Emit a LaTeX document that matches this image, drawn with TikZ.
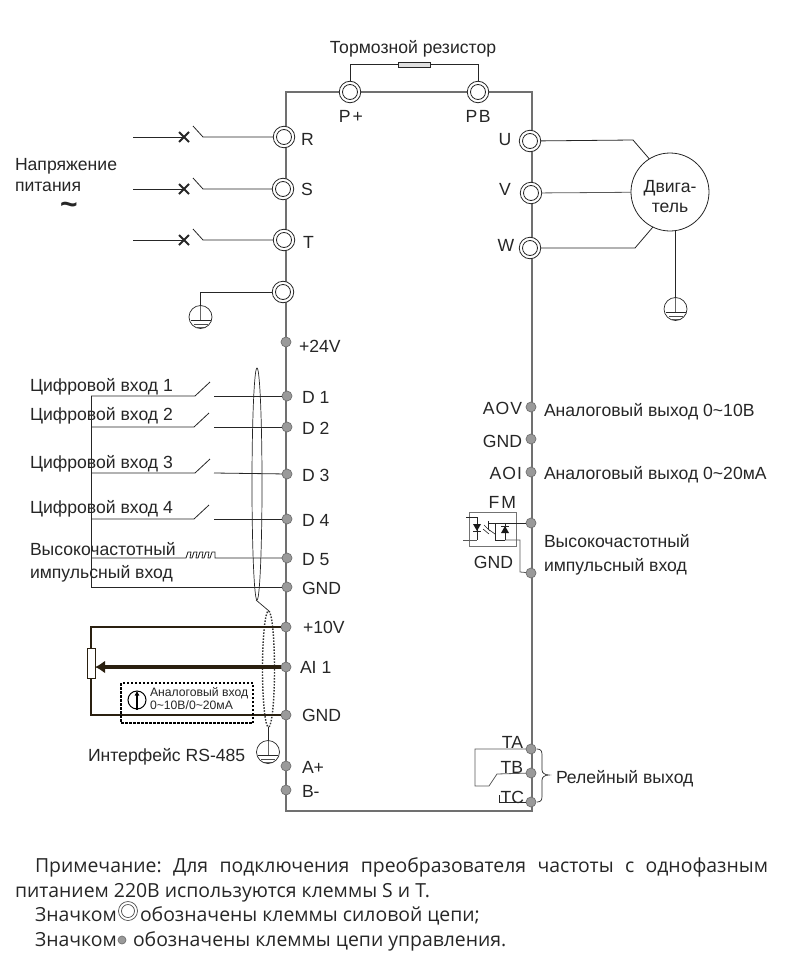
\documentclass[tikz,border=0pt]{standalone}
\usepackage{fontspec}
\setmainfont{Liberation Sans}
\newfontfamily\notefont{Open Sans}
\usetikzlibrary{arrows.meta,backgrounds}
\definecolor{framegray}{HTML}{707070}
\definecolor{termgray}{HTML}{9A9A9A}
\definecolor{wiredark}{HTML}{2A2010}
\tikzset{
  lab/.style={inner sep=0pt,outer sep=0pt,anchor=base west,font=\fontsize{17.6}{20}\selectfont,text=black!85},
  labc/.style={lab,anchor=base},
  notetext/.style={lab,font=\notefont\fontsize{19.4}{22}\selectfont\frenchspacing},
  term/.style={circle,draw=framegray,fill=termgray,line width=.7pt,minimum size=10pt,inner sep=0pt,outer sep=0pt},
  power/.style={circle,draw=black!85,fill=white,line width=.8pt,minimum size=21.5pt,inner sep=0pt,outer sep=0pt,
    path picture={\draw[line width=.8pt,black!85] (path picture bounding box.center) circle (7.5pt);}},
  earth/.style={circle,draw=black!85,line width=.7pt,minimum size=23pt,inner sep=0pt,outer sep=0pt,
    path picture={\begin{scope}[shift={(path picture bounding box.center)}]
      \draw[line width=.7pt,black!60] (0,-12)--(0,3);
      \draw[line width=.8pt,black!85] (-10,3)--(10,3);
      \draw[line width=.7pt,black!70] (-7,7)--(7,7);
      \draw[line width=.7pt,black!60] (-4,10)--(4,10);
    \end{scope}}},
  wire/.style={line width=.8pt,black!85},
  gwire/.style={line width=.8pt,black!65},
  heavy/.style={line width=2pt,wiredark},
  frameline/.style={line width=2pt,framegray},
  cross/.style={line width=1.8pt,black!85}
}
\begin{document}
\begin{tikzpicture}[x=1pt,y=-1pt]
\useasboundingbox (0,0) rectangle (785,969);
% --- terminals
\node[power] (pp) at (350,92) {};
\node[power] (pb) at (478,92) {};
\node[power] (r) at (284,137) {};
\node[power] (s) at (283,189) {};
\node[power] (t) at (284,240) {};
\node[power] (pe) at (283,292) {};
\node[power] (u) at (530,141) {};
\node[power] (v) at (531,193) {};
\node[power] (w) at (530,248) {};
\node[term] (p24) at (286,342) {};
\node[term] (d1) at (287,396) {};
\node[term] (d2) at (287,427) {};
\node[term] (d3) at (287,474) {};
\node[term] (d4) at (287,519) {};
\node[term] (d5) at (287,558) {};
\node[term] (gnda) at (287,587) {};
\node[term] (p10) at (286,627) {};
\node[term] (ai) at (286,667) {};
\node[term] (gndb) at (286,715) {};
\node[term] (ap) at (286,766) {};
\node[term] (bm) at (286,790) {};
\node[term] (aov) at (531,407) {};
\node[term] (gndc) at (531,439) {};
\node[term] (aoi) at (531,472) {};
\node[term] (fm) at (531,523) {};
\node[term] (gndd) at (531,573) {};
\node[term] (ta) at (531,749) {};
\node[term] (tb) at (531,773) {};
\node[term] (tc) at (531,802) {};
% --- frame
\begin{scope}[on background layer]
\draw[frameline] (286,92) rectangle (532,811);
\end{scope}
% --- brake resistor
\node[draw=black!85,fill=black!12,line width=.8pt,minimum width=32pt,minimum height=5pt,inner sep=0pt] (rb) at (414,64.5) {};
\draw[wire] (pp) |- (rb);
\draw[wire] (pb) |- (rb);
\node[labc] (lrb) at (413,53) {Тормозной резистор};
% --- mains
\foreach \n/\y in {r/137,s/189,t/240}{
  \coordinate (a\n) at (133,\y);
  \coordinate (x\n) at (184,\y);
  \coordinate (sa\n) at (193,\y-11);
  \coordinate (sb\n) at (203,\y);
  \draw[wire] (a\n) -- (x\n);
  \draw[cross] (179,\y-5) -- (189,\y+5) (179,\y+5) -- (189,\y-5);
  \draw[wire] (sa\n) -- (sb\n) -- (\n);
}
\node[earth] (e1) at (200.5,317) {};
\draw[wire] (pe) -| (e1);
\node[lab] (lr) at (301,145) {R};
\node[lab] (ls) at (301,195) {S};
\node[lab] (lt) at (303,248) {T};
\node[lab] (lv1) at (15,170) {Напряжение};
\node[lab] (lv2) at (15,191) {питания};
\node[labc,font=\fontsize{30}{30}\selectfont\bfseries] (lv3) at (69,214) {\char"7E};
\node[labc] (lpp) at (351,122) {P\kern2pt +};
\node[labc] (lpb) at (478,122) {P\kern1.5pt B};
% --- motor
\node[circle,draw=black!85,line width=.8pt,minimum size=78pt,inner sep=0pt,outer sep=0pt] (m) at (670,192) {};
\node[align=center,inner sep=0pt,font=\fontsize{17.6}{20}\selectfont,text=black!85] (mt) at (670,197) {Двига-\\тель};
\coordinate (mu) at (633,140);
\coordinate (mw) at (635,248);
\draw[wire] (u) -- (mu) -- (m.122);
\draw[gwire] (v) -- (m);
\draw[wire] (w) -- (mw) -- (m.244);
\node[earth] (e2) at (675.5,309) {};
\draw[wire] (m.south -| e2) -- (e2);
\node[labc] (lu) at (505,145) {U};
\node[labc] (lv) at (505,195) {V};
\node[labc] (lw) at (506,251) {W};
% --- digital inputs
\coordinate (bt) at (91,396);
\coordinate (bb) at (91,587);
\draw[wire] (bt) -- (bb) -- (gnda);
\foreach \n/\y/\k in {d1/396/195,d2/427/194,d3/473/195,d4/519/194}{
  \coordinate (ba\n) at (91,\y);
  \coordinate (bs\n) at (\k,\y);
  \coordinate (bh\n) at (\k+15,\y-14);
  \coordinate (bo\n) at (214,\y);
  \draw[wire] (ba\n) -- (bs\n) -- (bh\n);
  \draw[wire] (bo\n) -- (\n);
}
\coordinate (pa) at (91,558);
\coordinate (pz) at (215,558);
\draw[wire] (pa) -- (186,558) -- (188,552) -- (191,552) -- (190,558) -- (192,558) -- (194,552) -- (197,552) -- (196,558) -- (198,558) -- (200,552) -- (203,552) -- (202,558) -- (204,558) -- (206,552) -- (209,552) -- (208,558) -- (210,558) -- (212,552) -- (215,552) -- (pz) -- (d5);
\node[lab] (ld1) at (30,391) {Цифровой вход 1};
\node[lab] (ld2) at (30,420) {Цифровой вход 2};
\node[lab] (ld3) at (30,468) {Цифровой вход 3};
\node[lab] (ld4) at (30,513) {Цифровой вход 4};
\node[lab] (ld5) at (30,555) {Высокочастотный};
\node[lab] (ld6) at (30,578) {импульсный вход};
\node[lab] (td1) at (302,403) {D 1};
\node[lab] (td2) at (302,434) {D 2};
\node[lab] (td3) at (302,481) {D 3};
\node[lab] (td4) at (302,526) {D 4};
\node[lab] (td5) at (302,565) {D 5};
\node[lab] (tga) at (302,594) {GND};
\node[lab] (t24) at (299,352) {+24V};
\node[lab] (t10) at (303,633) {+10V};
\node[lab] (tai) at (300,673) {AI 1};
\node[lab] (tgb) at (302,721) {GND};
\node[lab] (tap) at (302,773) {A+};
\node[lab] (tbm) at (302,797) {B-};
% --- cable shield
\draw[line width=.7pt,black!85] (257,484) ellipse [x radius=5,y radius=116];
\coordinate (sh1) at (256,600);
\coordinate (sh2) at (269,611);
\draw[line width=.7pt,black!85] (sh1) -- (sh2);
\draw[line width=1.4pt,black!80,dash pattern=on 1.5pt off 1.5pt] (268.5,669) ellipse [x radius=6,y radius=58];
\node[earth] (e3) at (268,752) {};
\coordinate (sh3) at (268,727);
\draw[wire] (sh3) -- (e3);
\node[lab] (lrs) at (88,761) {Интерфейс RS-485};
% --- analog input
\node[draw=wiredark,fill=white,line width=1pt,minimum width=8pt,minimum height=30pt,inner sep=0pt,outer sep=0pt] (pot) at (91,663) {};
\draw[heavy] (pot.north) |- (p10);
\draw[heavy] (pot.south) |- (gndb);
\draw[line width=4pt,wiredark,-{Latex[length=10pt,width=13pt]}] (ai) -- (pot.east |- ai);
\node[draw=black,line width=1.5pt,dash pattern=on 2.5pt off 1.5pt,minimum width=132pt,minimum height=40pt,inner sep=0pt] (dbox) at (187,703) {};
\node[circle,draw=black,line width=1pt,minimum size=18pt,inner sep=0pt] (ci) at (137,700) {};
\draw[line width=1.5pt,black,-{Latex[length=5pt,width=5pt]}] (ci.south) -- (ci.north);
\node[lab,font=\fontsize{12.2}{14}\selectfont] (la1) at (150,696) {Аналоговый вход};
\node[lab,font=\fontsize{12.2}{14}\selectfont] (la2) at (150,709) {0\char"7E 10В/0\char"7E 20мА};
% --- right labels
\node[lab,anchor=base east] (raov) at (522,414) {A\kern1pt O\kern1pt V};
\node[lab,anchor=base east] (rgc) at (522,447) {GND};
\node[lab,anchor=base east] (raoi) at (522,479) {A\kern1pt O\kern1pt I};
\node[lab,anchor=base east] (rfm) at (516,508) {F\kern2pt M};
\node[lab,anchor=base east] (rgd) at (513,568) {GND};
\node[lab] (o1) at (544,416) {Аналоговый выход 0\char"7E 10В};
\node[lab] (o2) at (544,479) {Аналоговый выход 0\char"7E 20мА};
\node[lab] (o3) at (544,547) {Высокочастотный};
\node[lab] (o4) at (544,571) {импульсный вход};
\node[lab] (o5) at (556,783) {Релейный выход};
\node[lab,anchor=base east] (rta) at (523,748) {TA};
\node[lab,anchor=base east] (rtb) at (523,773) {TB};
\node[lab,anchor=base east] (rtc) at (524,803) {TC};
% --- FM optocoupler
\node[draw=black!55,line width=1pt,minimum width=47pt,minimum height=34pt,inner sep=0pt] (okbox) at (492.5,529) {};
\coordinate (fma) at (488,523);
\coordinate (fmb) at (495,540);
\coordinate (fmc) at (520,540);
\coordinate (fmd) at (520,572);
\draw[wire] (466,517.5) -- (477,517.5) -- (477,540);
\draw[gwire] (463,540) -- (477,540);
\fill[black!90] (473,524) -- (481,524) -- (477,531) -- cycle;
\draw[wire] (473,531) -- (481,531);
\draw[wire] (488,521) -- (488,529);
\draw[wire] (fma) -- (fm);
\draw[wire] (495,523) -- (fmb);
\draw[wire] (fmb) -- (505,540);
\draw[gwire] (505,540) -- (fmc) -- (fmd) -- (gndd);
\draw[wire] (505,523) -- (505,540);
\fill[black!90] (501,533) -- (509,533) -- (505,526) -- cycle;
\draw[wire] (501,526) -- (509,526);
\draw[wire,line width=.6pt] (484,525) -- (490,531) (483,529) -- (489,534) (488,529) -- (495,534);
% --- relay
\coordinate (ra) at (475,749);
\coordinate (rb2) at (475,786);
\coordinate (rc) at (489,786);
\coordinate (rd) at (497,774);
\coordinate (re) at (499,802);
\draw[gwire] (ta) -- (ra) -- (rb2) -- (rc) -- (rd) -- (tb);
\draw[wire] (re) -- (tc);
\draw[wire] (499,795) -- (re);
\draw[line width=.7pt,black!85] (537,749) .. controls (541,749) and (542,751) .. (542,755) -- (542,770) .. controls (542,773) and (545,775) .. (549,775) .. controls (545,775) and (542,777) .. (542,780) -- (542,796) .. controls (542,800) and (541,802) .. (537,802);
% --- note
\node[notetext] (n1) at (35,872) {\makebox[733pt][s]{Примечание: Для подключения преобразователя частоты с однофазным}};
\node[notetext] (n2) at (15,897) {питанием 220В используются клеммы S и T.};
\node[notetext] (n3) at (35,921) {Значком};
\node[circle,draw=black!70,line width=.7pt,minimum size=19pt,inner sep=0pt,path picture={\draw[line width=.7pt,black!70] (path picture bounding box.center) circle (6.5pt);}] (n3c) at (128,911) {};
\node[notetext] (n3b) at (140,921) {обозначены клеммы силовой цепи;};
\node[notetext] (n4) at (35,946) {Значком};
\node[circle,draw=framegray,fill=termgray,line width=.7pt,minimum size=8pt,inner sep=0pt] (n4c) at (122,940) {};
\node[notetext] (n4b) at (133,946) {обозначены клеммы цепи управления.};
\end{tikzpicture}
\end{document}
